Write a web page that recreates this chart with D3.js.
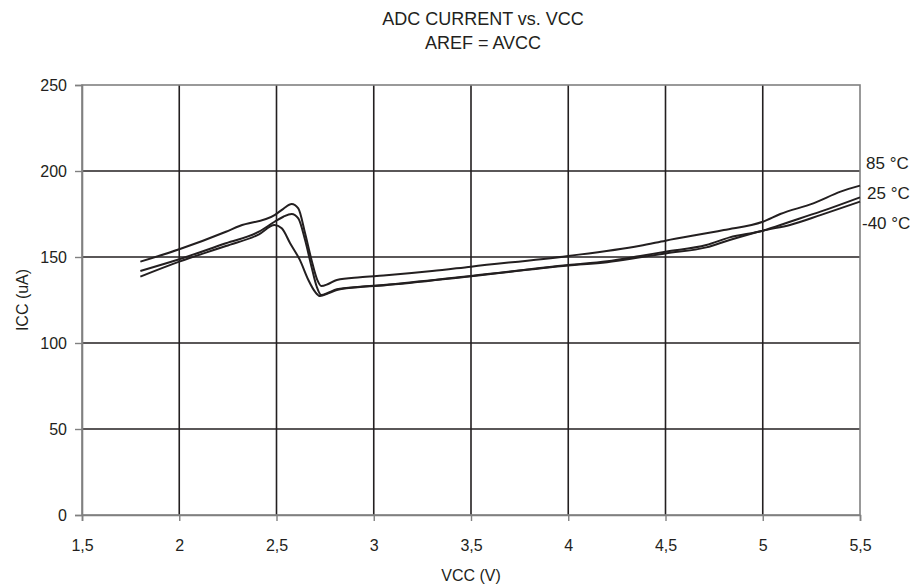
<!DOCTYPE html>
<html>
<head>
<meta charset="utf-8">
<script src="https://cdn.jsdelivr.net/npm/d3@7/dist/d3.min.js"></script>
<style>
body { margin: 0; background: #fff; }
text { font-family: "Liberation Sans", Arial, sans-serif; fill: #231f20; }
</style>
</head>
<body>
<svg id="chart" width="921" height="584"></svg>
<script>
const titleLines = ["ADC CURRENT vs. VCC", "AREF = AVCC"];
const xLabel = "VCC (V)";
const yLabel = "ICC (uA)";
const xTicks = [1.5, 2, 2.5, 3, 3.5, 4, 4.5, 5, 5.5];
const xTickLabels = ["1,5", "2", "2,5", "3", "3,5", "4", "4,5", "5", "5,5"];
const yTicks = [0, 50, 100, 150, 200, 250];
const seriesNames = ["85 °C", "25 °C", "-40 °C"];

const vcc85 = [1.8, 2.0, 2.24, 2.31, 2.49, 2.535, 2.578, 2.612, 2.647, 2.68, 2.71, 2.73, 2.766, 2.81, 2.93, 3.05, 3.3, 3.5, 4.0, 4.37, 4.5, 4.8, 5.0, 5.09, 5.26, 5.4, 5.5];
const icc85 = [147.3, 154.5, 164.7, 168.0, 174.4, 178.0, 180.8, 178.3, 163.8, 148.3, 136.6, 133.1, 134.3, 136.6, 138.2, 139.2, 141.8, 144.4, 150.6, 156.6, 159.5, 165.7, 170.5, 175.0, 181.2, 188.0, 191.5];

const vcc25 = [1.8, 2.0, 2.24, 2.41, 2.49, 2.535, 2.578, 2.612, 2.647, 2.68, 2.707, 2.73, 2.766, 2.81, 2.93, 3.05, 3.5, 4.0, 4.2, 4.37, 4.5, 4.71, 4.83, 5.0, 5.14, 5.3, 5.5];
const icc25 = [141.9, 148.7, 158.0, 164.7, 170.5, 173.4, 175.0, 172.5, 159.9, 144.4, 132.7, 127.9, 129.3, 131.2, 132.7, 133.7, 139.0, 145.3, 147.5, 150.6, 153.1, 157.0, 161.4, 165.3, 170.5, 176.5, 184.7];

const vcc40 = [1.8, 2.0, 2.24, 2.41, 2.49, 2.527, 2.57, 2.62, 2.664, 2.698, 2.724, 2.766, 2.81, 2.93, 3.05, 3.5, 4.0, 4.2, 4.37, 4.5, 4.71, 4.83, 5.0, 5.14, 5.3, 5.5];
const icc40 = [138.6, 147.3, 156.4, 163.2, 168.6, 166.7, 158.0, 148.3, 136.6, 129.8, 127.3, 128.9, 130.8, 132.5, 133.5, 138.8, 145.0, 147.0, 149.8, 152.1, 155.6, 159.9, 165.3, 168.6, 174.5, 182.2];

const series = [
  { name: seriesNames[0], x: vcc85, y: icc85 },
  { name: seriesNames[1], x: vcc25, y: icc25 },
  { name: seriesNames[2], x: vcc40, y: icc40 }
];

const svg = d3.select("#chart");
const mLeft = 82, mRight = 860, mTop = 85, mBottom = 515;
const x = d3.scaleLinear().domain([1.5, 5.5]).range([mLeft, mRight]);
const y = d3.scaleLinear().domain([0, 250]).range([mBottom, mTop]);
const ink = "#231f20", frame = "#808080";
const fontFam = '"Liberation Sans", Arial, sans-serif';

// gridlines
svg.append("g").selectAll("line").data(xTicks.filter(d => d > 1.5 && d < 5.5)).join("line")
  .attr("x1", d => x(d)).attr("x2", d => x(d)).attr("y1", mTop).attr("y2", mBottom)
  .attr("stroke", ink).attr("stroke-width", 1.6);
svg.append("g").selectAll("line").data(yTicks.filter(d => d > 0 && d < 250)).join("line")
  .attr("x1", mLeft).attr("x2", mRight).attr("y1", d => y(d)).attr("y2", d => y(d))
  .attr("stroke", ink).attr("stroke-width", 1.6);

// frame
svg.append("rect").attr("x", mLeft).attr("y", mTop).attr("width", mRight - mLeft).attr("height", mBottom - mTop)
  .attr("fill", "none").attr("stroke", frame).attr("stroke-width", 1.6);

// axes
const yAxis = d3.axisLeft(y).tickValues(yTicks).tickSize(7).tickPadding(8);
const gy = svg.append("g").attr("transform", `translate(${mLeft},0)`).call(yAxis);
const xAxis = d3.axisBottom(x).tickValues(xTicks).tickSize(6)
  .tickFormat((d, i) => xTickLabels[i]);
const gx = svg.append("g").attr("transform", `translate(0,${mBottom})`).call(xAxis);
gx.selectAll(".tick text").attr("y", 30).attr("dy", "0.35em");
[gy, gx].forEach(g => {
  g.select(".domain").attr("stroke", frame).attr("stroke-width", 1.6);
  g.selectAll(".tick line").attr("stroke", frame).attr("stroke-width", 1.4);
  g.selectAll(".tick text").attr("font-size", 16).attr("fill", ink).attr("font-family", fontFam);
});

// lines
const line = d3.line().x(d => x(d[0])).y(d => y(d[1])).curve(d3.curveMonotoneX);
svg.append("g").selectAll("path").data(series).join("path")
  .attr("d", s => line(s.x.map((v, i) => [v, s.y[i]])))
  .attr("fill", "none").attr("stroke", ink).attr("stroke-width", 2)
  .attr("stroke-linejoin", "round");

// series labels
const labelPos = [[866, 163], [867, 193], [862, 223]];
svg.append("g").selectAll("text").data(series).join("text")
  .attr("x", (d, i) => labelPos[i][0]).attr("y", (d, i) => labelPos[i][1])
  .attr("dy", "0.35em").attr("font-size", 17).text(d => d.name);

// titles
svg.append("g").selectAll("text").data(titleLines).join("text")
  .attr("x", 483).attr("y", (d, i) => 19 + i * 23.5)
  .attr("dy", "0.35em").attr("text-anchor", "middle").attr("font-size", 18).text(d => d);

svg.append("text").attr("x", (mLeft + mRight) / 2).attr("y", 575).attr("dy", "0.35em")
  .attr("text-anchor", "middle").attr("font-size", 16).text(xLabel);
svg.append("text").attr("transform", `translate(22,${(mTop + mBottom) / 2}) rotate(-90)`)
  .attr("dy", "0.35em").attr("text-anchor", "middle").attr("font-size", 16).text(yLabel);
</script>
</body>
</html>
